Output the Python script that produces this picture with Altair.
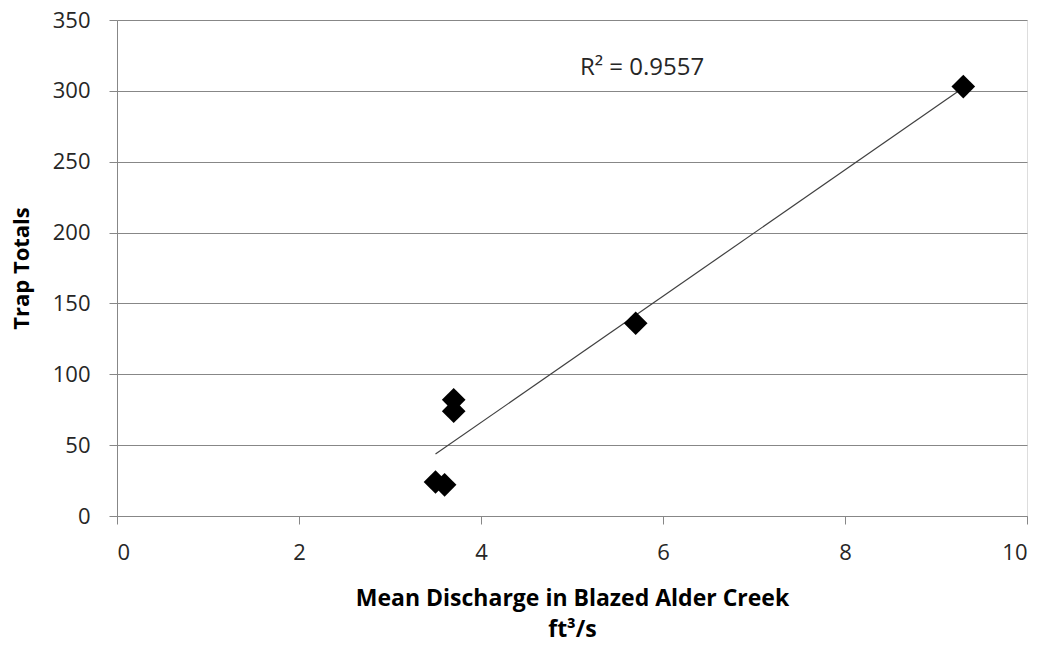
import altair as alt
import pandas as pd

discharge = [3.5, 3.6, 3.7, 3.7, 5.7, 9.3]
trap_totals = [24, 22, 82, 74, 136, 303]

label_text = ["R² = 0.9557"]
label_x = [5.77]
label_y = [316]

df = pd.DataFrame({"x": discharge, "y": trap_totals})
lab = pd.DataFrame({"x": label_x, "y": label_y, "t": label_text})

FONT = "Open Sans"
GRAY = "#878787"

xscale = alt.Scale(domain=[0, 10], nice=False, zero=False)
yscale = alt.Scale(domain=[0, 350], nice=False, zero=False)

xaxis = alt.Axis(
    title=["Mean Discharge in Blazed Alder Creek", "ft³/s"],
    values=[0, 2, 4, 6, 8, 10], format="d", grid=False,
    domainColor=GRAY, tickColor=GRAY, tickSize=8,
    labelFont=FONT, labelFontSize=22, labelColor="#262626", labelPadding=18,
    titleFont=FONT, titleFontSize=23, titleFontWeight="bold", titleColor="#000000",
    titlePadding=24, titleLineHeight=31,
)
yaxis = alt.Axis(
    title="Trap Totals",
    values=[0, 50, 100, 150, 200, 250, 300, 350], format="d", grid=True,
    gridColor=GRAY, gridWidth=1.2,
    domainColor=GRAY, tickColor=GRAY, tickSize=8,
    labelFont=FONT, labelFontSize=22, labelColor="#262626", labelPadding=19,
    titleFont=FONT, titleFontSize=22, titleFontWeight="bold", titleColor="#000000",
    titlePadding=19,
)

X = alt.X("x:Q", scale=xscale, axis=xaxis)
Y = alt.Y("y:Q", scale=yscale, axis=yaxis)

pts = alt.Chart(df).mark_point(
    shape="diamond", filled=True, color="black", size=560, opacity=1
).encode(x=X, y=Y)

trend = alt.Chart(df).transform_regression("x", "y").mark_line(
    color="#404040", strokeWidth=1.2
).encode(x=X, y=Y)

txt = alt.Chart(lab).mark_text(
    font=FONT, fontSize=24, color="#262626", align="center", baseline="middle"
).encode(x=X, y=Y, text="t:N")

chart = alt.layer(trend, pts, txt).properties(
    width=910, height=496,
    autosize=alt.AutoSizeParams(type="none"),
    padding={"left": 109, "top": 12, "right": 14, "bottom": 125},
).configure_view(stroke=None).configure(background="white")

chart.save("out.html", embed_options={"renderer": "svg", "actions": False})
